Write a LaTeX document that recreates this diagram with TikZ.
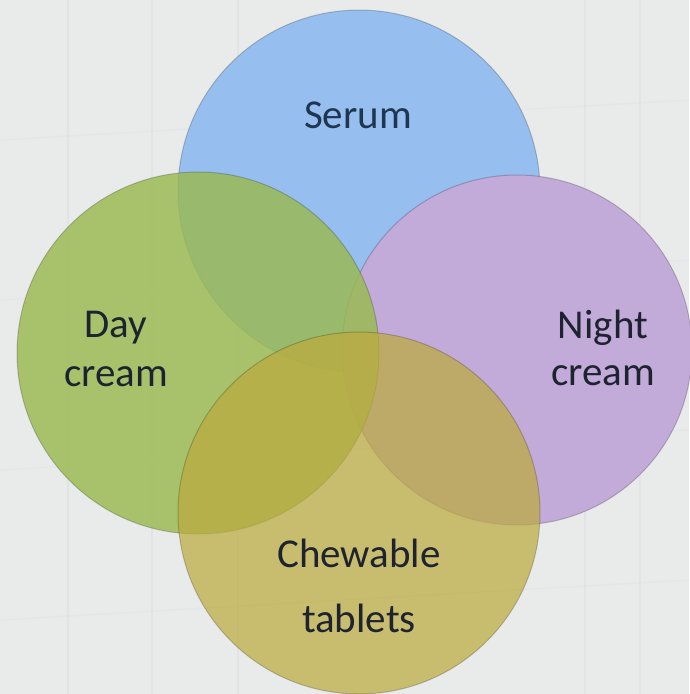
\documentclass[tikz,border=0pt]{standalone}
\usepackage{fontspec}
\setmainfont{Carlito}

\definecolor{bgray}{HTML}{E9EBEB}
\definecolor{framegray}{HTML}{DDE0E1}
\definecolor{serumblue}{HTML}{96BEEE}
\definecolor{nightpurple}{HTML}{C2AAD9}
\definecolor{daygreen}{HTML}{9ABA50}
\definecolor{chewolive}{HTML}{BCAA3E}
\definecolor{inkdark}{HTML}{1E2330}
\definecolor{inkblue}{HTML}{1F3652}

\tikzset{
  bubble/.style={circle, inner sep=0pt, minimum size=362pt,
    draw=black, draw opacity=0.2, line width=1pt},
  lbl/.style={anchor=base, inner sep=0pt, text=inkdark,
    font=\fontsize{41}{47}\selectfont},
}

\begin{document}
\begin{tikzpicture}[x=1pt, y=-1pt]

  \newcommand\Rad{181}

  % background
  \fill[bgray] (0,0) rectangle (689,694);
  \useasboundingbox (0,0) rectangle (689,694);
  \foreach \xx in {68, 152, 238, 585, 640}
    \draw[framegray, line width=2pt, opacity=0.6] (\xx,0) -- (\xx,694);
  \foreach \yy in {140, 300, 470, 620}
    \draw[framegray, line width=1.5pt, opacity=0.4] (0,\yy) -- (689,\yy-40);

  % circles
  \node[bubble, fill=serumblue] (serum) at (359,191) {};
  \node[bubble, fill=nightpurple, minimum size=350pt] (night) at (517,350) {};
  \node[bubble, fill=daygreen, fill opacity=0.82] (day) at (198,353) {};
  \node[bubble, fill=chewolive, fill opacity=0.72] (chew) at (359,513) {};

  % labels
  \node[lbl, text=inkblue] (serumtxt) at (358,128) {Serum};
  \node[lbl] (daytxt) at (116,337) {Day};
  \node[lbl] (daytxtb) at (116,386) {cream};
  \node[lbl] (nighttxt) at (603,338) {Night};
  \node[lbl] (nighttxtb) at (603,385) {cream};
  \node[lbl] (chewtxt) at (359,567) {Chewable};
  \node[lbl] (chewtxtb) at (359,632) {tablets};

\end{tikzpicture}
\end{document}
